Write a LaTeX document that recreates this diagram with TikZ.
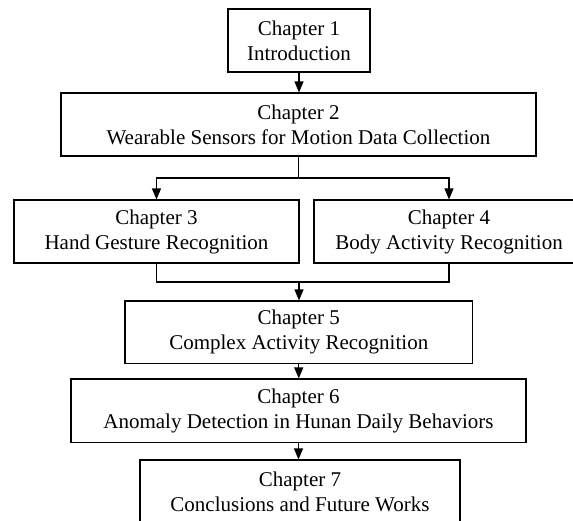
\documentclass[tikz,border=0pt]{standalone}
\usepackage{fontspec}
\setmainfont{Liberation Serif}
\usetikzlibrary{arrows.meta}

\begin{document}
\begin{tikzpicture}[x=1pt, y=-1pt,
  chapbox/.style={draw=black, line width=1.1pt, inner sep=0pt, align=center,
    font=\fontsize{21}{25}\selectfont, fill=white},
  flow/.style={line width=1.1pt, -{Triangle[length=11pt,width=9pt]}},
  link/.style={line width=1.1pt}]
  \useasboundingbox (0,0) rectangle (573,520);

  % chapter boxes
  \node[chapbox, minimum width=142pt, minimum height=63pt] (c1) at (299,40.5)
    {Chapter 1\\Introduction};
  \node[chapbox, minimum width=475pt, minimum height=63pt] (c2) at (298.5,124.5)
    {Chapter 2\\Wearable Sensors for Motion Data Collection};
  \node[chapbox, minimum width=285pt, minimum height=63pt] (c3) at (156.5,231.5)
    {Chapter 3\\Hand Gesture Recognition};
  \node[chapbox, minimum width=270pt, minimum height=63pt] (c4) at (449,231.5)
    {Chapter 4\\Body Activity Recognition};
  \node[chapbox, minimum width=347.5pt, minimum height=62.5pt] (c5) at (298.75,332.25)
    {Chapter 5\\Complex Activity Recognition};
  \node[chapbox, minimum width=455pt, minimum height=63.5pt] (c6) at (298.5,410.75)
    {Chapter 6\\Anomaly Detection in Hunan Daily Behaviors};
  \node[chapbox, minimum width=320pt, minimum height=63pt] (c7) at (300,491.5)
    {Chapter 7\\Conclusions and Future Works};

  % branch and merge points
  \coordinate (split) at (298.5,178);
  \coordinate (merge) at (299,282);

  % connectors
  \draw[flow] (c1.south) -- (c1.south |- c2.north);
  \draw[link] (c2.south) -- (split);
  \draw[flow] (split) -| (c3.north);
  \draw[flow] (split) -| (c4.north);
  \draw[link] (c3.south) |- (merge) -| (c4.south);
  \draw[flow] (merge) -- (merge |- c5.north);
  \draw[flow] (c5.south) -- (c5.south |- c6.north);
  \draw[flow] (c6.south) -- (c6.south |- c7.north);
\end{tikzpicture}
\end{document}
